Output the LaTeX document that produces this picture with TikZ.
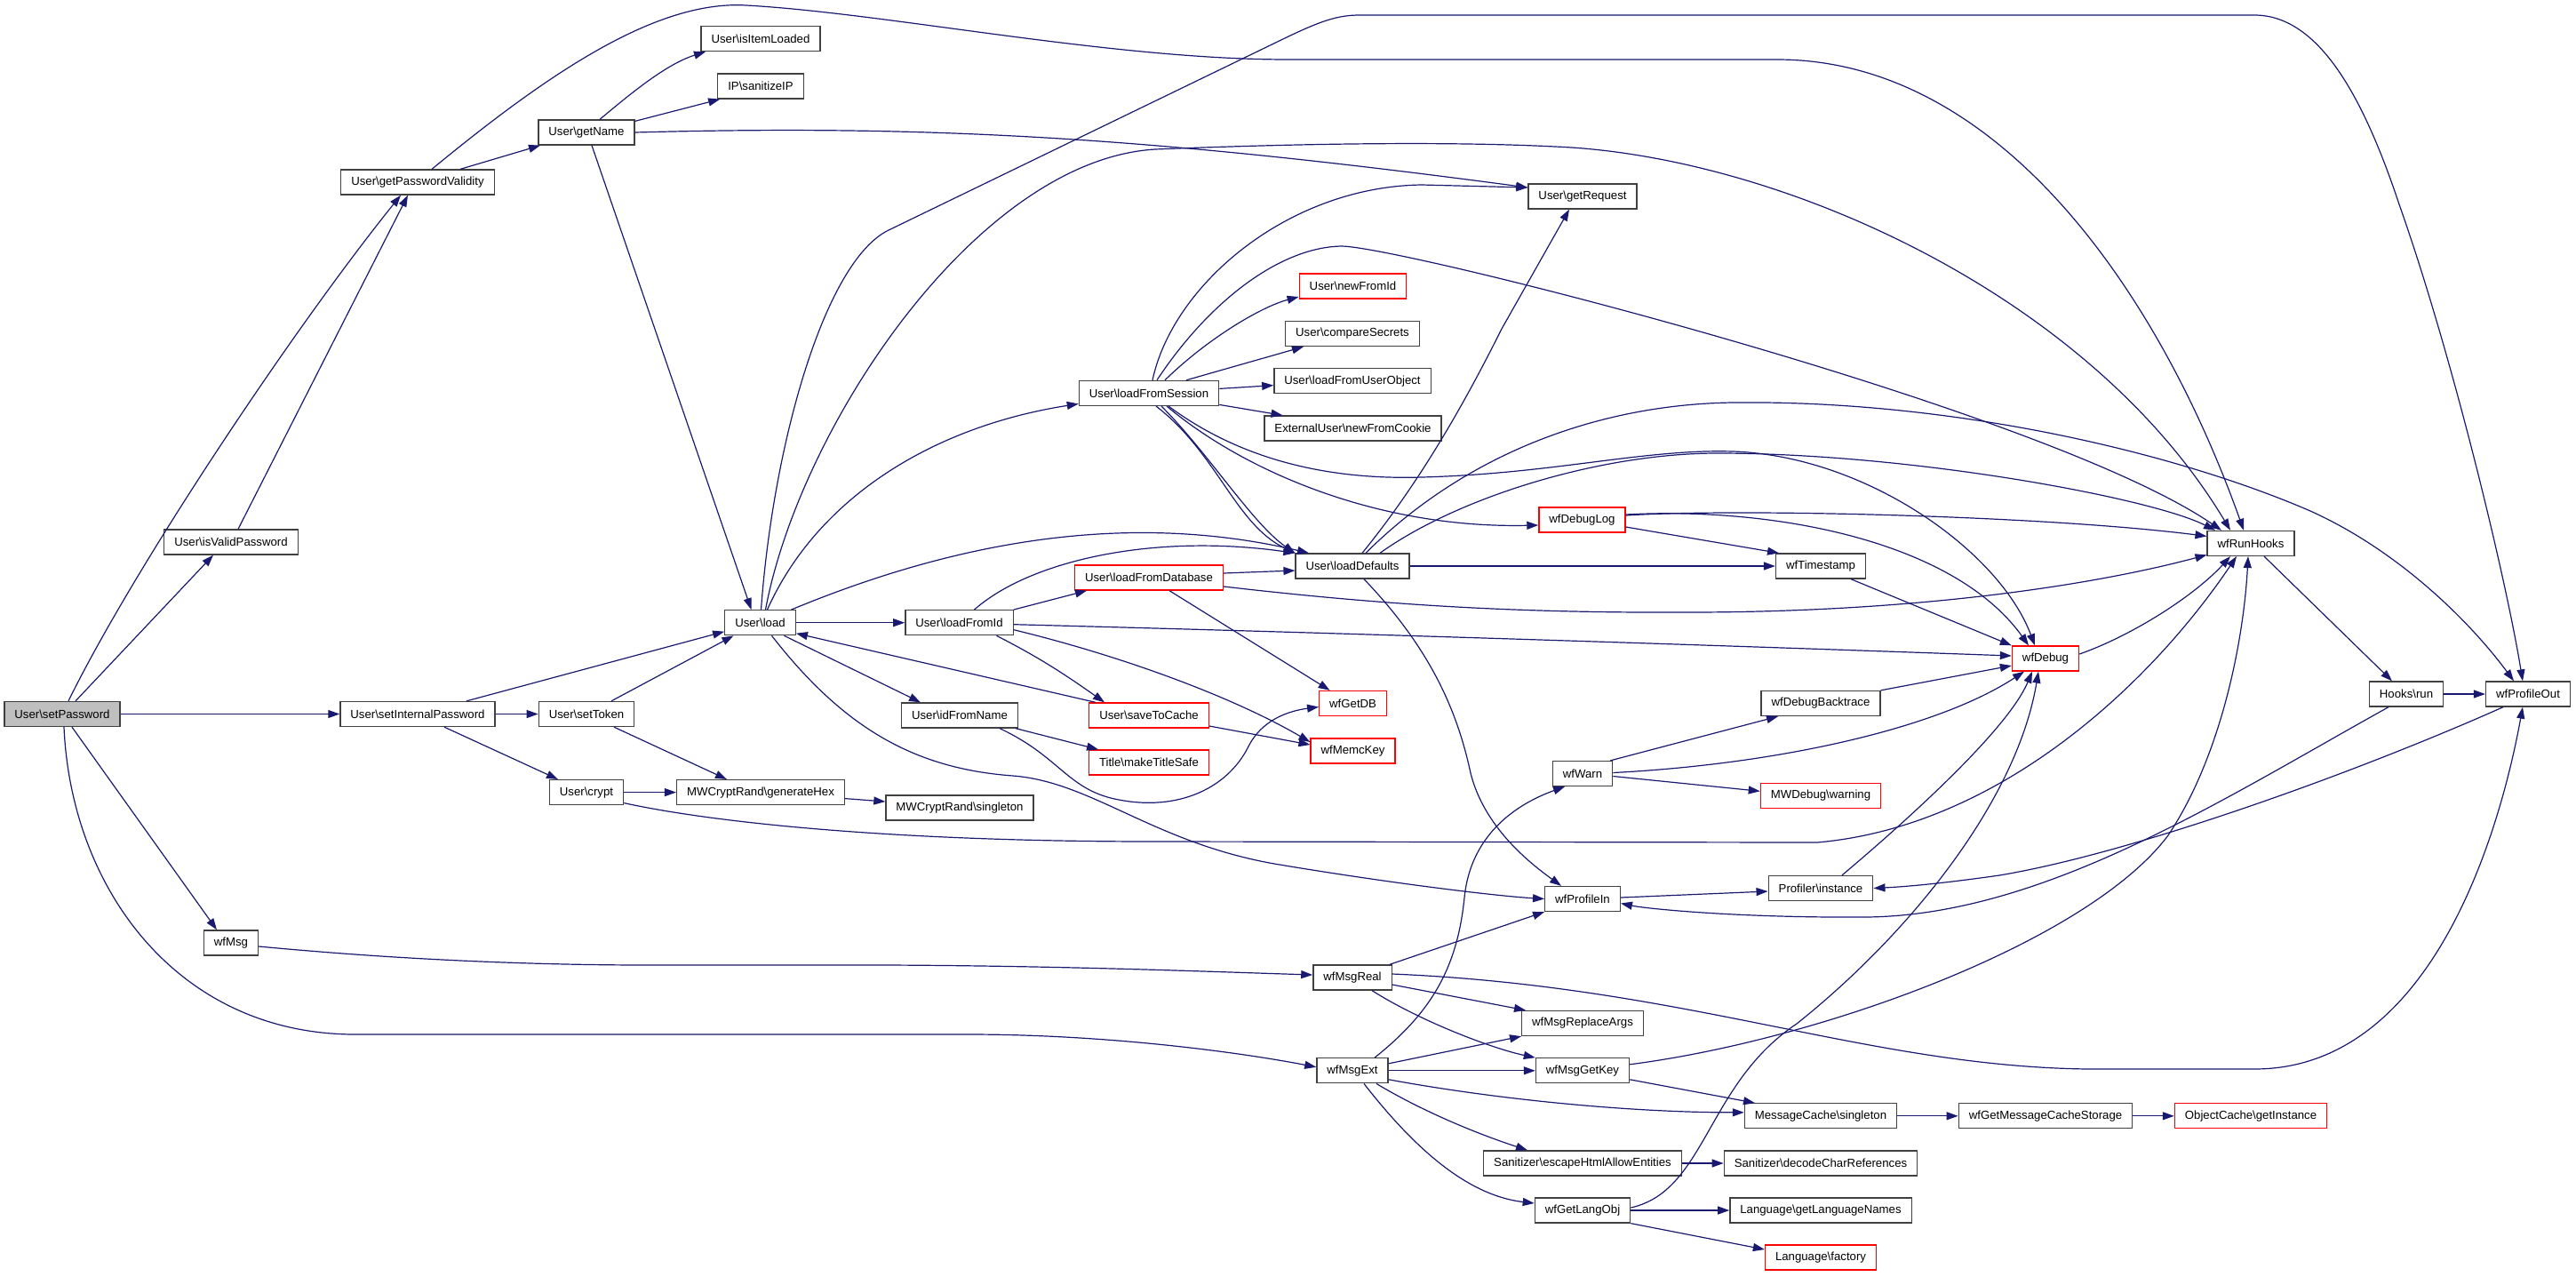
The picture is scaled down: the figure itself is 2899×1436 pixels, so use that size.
\documentclass[tikz,border=0pt]{standalone}
\usepackage{fontspec}
\setmainfont{Liberation Sans}
\usetikzlibrary{arrows.meta}
\definecolor{edgec}{HTML}{191970}
\definecolor{nodeb}{HTML}{404040}
\definecolor{redb}{HTML}{FF0000}
\definecolor{grayf}{HTML}{BFBFBF}
\newcommand\bsl{\textbackslash}
\tikzset{
 fn/.style={draw=nodeb, line width=1.3pt, fill=white, minimum height=28pt, inner xsep=11.5pt, inner ysep=0pt, font=\fontsize{13.2}{15}\selectfont, text=black},
 rfn/.style={fn, draw=redb},
 edg/.style={draw=edgec, line width=1.2pt, -{Triangle[length=13pt,width=9pt]}}
}
\begin{document}
\begin{tikzpicture}[x=1pt,y=-1pt]
\useasboundingbox (0,0) rectangle (2899,1436);
% nodes
\node[fn, fill=grayf] (sp) at (70,803.5) {User\bsl setPassword};
\node[fn] (ivp) at (260,610) {User\bsl isValidPassword};
\node[fn] (wmsg) at (260,1061) {wfMsg};
\node[fn] (gpv) at (470,205) {User\bsl getPasswordValidity};
\node[fn] (sip) at (470,803.5) {User\bsl setInternalPassword};
\node[fn] (gn) at (660,149) {User\bsl getName};
\node[fn] (st) at (660,803.5) {User\bsl setToken};
\node[fn] (cr) at (660,891.6) {User\bsl crypt};
\node[fn] (iil) at (856,43.6) {User\bsl isItemLoaded};
\node[fn] (sanip) at (856,97) {IP\bsl sanitizeIP};
\node[fn] (load) at (855.5,700.7) {User\bsl load};
\node[fn] (gh) at (856,891.6) {MWCryptRand\bsl generateHex};
\node[fn] (lfi) at (1079.5,700.7) {User\bsl loadFromId};
\node[fn] (ifn) at (1080,805) {User\bsl idFromName};
\node[fn] (cs) at (1080,909) {MWCryptRand\bsl singleton};
\node[fn] (lfs) at (1293,442.4) {User\bsl loadFromSession};
\node[rfn] (lfdb) at (1293,650) {User\bsl loadFromDatabase};
\node[rfn] (stc) at (1293,805) {User\bsl saveToCache};
\node[rfn] (mts) at (1293,858) {Title\bsl makeTitleSafe};
\node[rfn] (nfi) at (1522.5,322) {User\bsl newFromId};
\node[fn] (csec) at (1522,375.5) {User\bsl compareSecrets};
\node[fn] (lfuo) at (1522,428.6) {User\bsl loadFromUserObject};
\node[fn] (nfc) at (1522.5,482) {ExternalUser\bsl newFromCookie};
\node[fn] (ldef) at (1522,637) {User\bsl loadDefaults};
\node[rfn] (wgdb) at (1522.6,791.5) {wfGetDB};
\node[rfn] (wmk) at (1522.5,845) {wfMemcKey};
\node[fn] (wmr) at (1522,1100) {wfMsgReal};
\node[fn] (wme) at (1522,1204.8) {wfMsgExt};
\node[fn] (gr) at (1781,221) {User\bsl getRequest};
\node[rfn] (wdl) at (1780.5,585) {wfDebugLog};
\node[fn] (wfw) at (1781,870.5) {wfWarn};
\node[fn] (wpi) at (1781,1011.5) {wfProfileIn};
\node[fn] (wmra) at (1781,1151.5) {wfMsgReplaceArgs};
\node[fn] (wmgk) at (1781,1204.8) {wfMsgGetKey};
\node[fn] (esc) at (1781,1309) {Sanitizer\bsl escapeHtmlAllowEntities};
\node[fn] (wglo) at (1781,1362) {wfGetLangObj};
\node[fn] (wts) at (2049,637) {wfTimestamp};
\node[fn] (wdb) at (2049,791.5) {wfDebugBacktrace};
\node[rfn] (mdw) at (2049,895.3) {MWDebug\bsl warning};
\node[fn] (pfi) at (2049,999.5) {Profiler\bsl instance};
\node[fn] (mcs) at (2049,1255.8) {MessageCache\bsl singleton};
\node[fn] (dcr) at (2049,1309) {Sanitizer\bsl decodeCharReferences};
\node[fn] (gln) at (2049,1362) {Language\bsl getLanguageNames};
\node[rfn] (lf) at (2049,1415) {Language\bsl factory};
\node[rfn] (wfd) at (2302,741) {wfDebug};
\node[fn] (wgmcs) at (2302,1255.8) {wfGetMessageCacheStorage};
\node[fn] (wrh) at (2533,611.4) {wfRunHooks};
\node[rfn] (ocgi) at (2533,1255.8) {ObjectCache\bsl getInstance};
\node[fn] (hr) at (2708,781) {Hooks\bsl run};
\node[fn] (wpo) at (2845,781) {wfProfileOut};
% edges
\draw[edg] ([xshift=7pt]sp.north) .. controls (150,640) and (330,370) .. ([xshift=-19pt]gpv.south);
\draw[edg] ([xshift=15pt]sp.north) -- ([xshift=-20pt]ivp.south);
\draw[edg] ([xshift=8pt]ivp.north) -- ([xshift=-11pt]gpv.south);
\draw[edg] (sp) -- (sip);
\draw[edg] ([xshift=11pt]sp.south) -- ([xshift=-16pt]wmsg.north);
\draw[edg] ([xshift=2pt]sp.south) .. controls (80,1000) and (200,1164) .. (400,1164) -- (1090,1164) .. controls (1250,1164) and (1400,1185) .. ([yshift=4pt]wme.west);
\draw[edg] ([xshift=48pt]gpv.north) -- ([xshift=-52pt]gn.south);
\draw[edg] ([xshift=16pt]gpv.north) .. controls (620,80) and (740,0) .. (840,6) .. controls (1000,15) and (1250,67) .. (1450,67) -- (2000,67) .. controls (2250,67) and (2430,330) .. ([xshift=-8pt]wrh.north);
\draw[edg] ([xshift=15pt]gn.north) .. controls (710,105) and (750,72) .. ([xshift=-62pt]iil.south);
\draw[edg] ([yshift=-2pt]gn.north east) -- ([xshift=3pt]sanip.south west);
\draw[edg] (gn.east) .. controls (1050,140) and (1300,155) .. ([yshift=10pt]gr.west);
\draw[edg] ([xshift=6pt]gn.south) -- ([xshift=-10pt]load.north);
\draw[edg] ([xshift=55pt]sip.north) -- ([yshift=-10pt]load.west);
\draw[edg] (sip) -- (st);
\draw[edg] ([xshift=30pt]sip.south) -- ([xshift=-32pt]cr.north);
\draw[edg] ([xshift=28pt]st.north) -- ([xshift=-30pt]load.south);
\draw[edg] ([xshift=31pt]st.south) -- ([xshift=-38pt]gh.north);
\draw[edg] (cr) -- (gh);
\draw[edg] ([yshift=-12pt]cr.east) .. controls (800,925) and (1000,947) .. (1300,947) -- (2045,948) .. controls (2250,930) and (2420,770) .. ([xshift=-16pt]wrh.south);
\draw[edg] ([yshift=-7pt]gh.east) -- ([yshift=7pt]cs.west);
\draw[edg] (load) -- (lfi);
\draw[edg] ([xshift=1pt]load.north) .. controls (870,500) and (928,294) .. (1000,259) -- (1450,41) .. controls (1486,24) and (1505,17) .. (1530,17) -- (2537,17) .. controls (2610,17) and (2660,110) .. (2700,230) .. controls (2760,400) and (2820,650) .. ([xshift=-6pt]wpo.north);
\draw[edg] ([xshift=6pt]load.north) .. controls (900,480) and (1100,180) .. (1300,168) .. controls (1500,160) and (1650,160) .. (1750,165) .. controls (2000,175) and (2350,330) .. ([xshift=-23pt]wrh.north);
\draw[edg] ([xshift=8pt]load.north) .. controls (920,560) and (1050,480) .. ([yshift=-12pt]lfs.west);
\draw[edg] ([xshift=35pt]load.north) .. controls (1050,620) and (1250,570) .. ([xshift=-49pt]ldef.north);
\draw[edg] ([xshift=27pt]load.south) -- ([xshift=-44pt]ifn.north);
\draw[edg] ([xshift=13pt]load.south) .. controls (950,820) and (1030,865) .. (1140,873) .. controls (1230,880) and (1300,950) .. (1440,973) .. controls (1560,993) and (1680,1008) .. (wpi.west);
\draw[edg] (lfi.north east) -- ([xshift=-70pt]lfdb.south);
\draw[edg] ([xshift=17pt]lfi.north) .. controls (1160,630) and (1300,600) .. (ldef.north west);
\draw[edg] ([yshift=-2pt]lfi.east) .. controls (1500,712) and (1900,725) .. ([yshift=3pt]wfd.west);
\draw[edg] ([yshift=-8pt]lfi.east) .. controls (1250,735) and (1380,780) .. ([yshift=10pt]wmk.west);
\draw[edg] ([xshift=42pt]lfi.south) .. controls (1170,740) and (1200,760) .. ([xshift=-50pt]stc.north);
\draw[edg] ([xshift=-60pt]stc.north) -- ([yshift=-12pt]load.east);
\draw[edg] ([yshift=-12pt]stc.east) -- ([yshift=7pt]wmk.west);
\draw[edg] ([xshift=23pt]lfdb.south) -- ([xshift=-26pt]wgdb.north);
\draw[edg] ([yshift=5pt]lfdb.east) -- ([yshift=-5pt]ldef.west);
\draw[edg] ([yshift=-10pt]lfdb.east) .. controls (1550,680) and (1700,690) .. (1900,689) .. controls (2150,689) and (2350,660) .. ([yshift=-13pt]wrh.west);
\draw[edg] ([xshift=-3pt]ifn.south east) -- ([xshift=-57pt]mts.north);
\draw[edg] ([xshift=45pt]ifn.south) .. controls (1190,850) and (1200,885) .. (1250,898) .. controls (1320,915) and (1380,890) .. (1405,840) .. controls (1420,810) and (1450,800) .. ([yshift=-4pt]wgdb.west);
\draw[edg] ([xshift=4pt]lfs.north) .. controls (1320,320) and (1450,210) .. (1600,208) -- ([yshift=10pt]gr.west);
\draw[edg] ([xshift=9pt]lfs.north) .. controls (1360,340) and (1440,278) .. (1510,277) .. controls (1580,278) and (2300,460) .. ([xshift=-33pt]wrh.north);
\draw[edg] ([xshift=18pt]lfs.north) .. controls (1360,380) and (1420,345) .. ([yshift=-12pt]nfi.west);
\draw[edg] ([xshift=42pt]lfs.north) -- ([xshift=-55pt]csec.south);
\draw[edg] ([yshift=5pt]lfs.east) -- ([yshift=-5pt]lfuo.west);
\draw[edg] ([yshift=-13pt]lfs.east) -- ([xshift=-79pt]nfc.north);
\draw[edg] ([xshift=8pt]lfs.south) .. controls (1370,510) and (1390,590) .. (ldef.north west);
\draw[edg] ([xshift=14pt]lfs.south) .. controls (1360,510) and (1410,590) .. (ldef.north west);
\draw[edg] ([xshift=20pt]lfs.south) .. controls (1400,530) and (1550,595) .. ([yshift=-6pt]wdl.west);
\draw[edg] ([xshift=22pt]lfs.south) .. controls (1400,520) and (1500,540) .. (1600,537) .. controls (1750,533) and (1850,505) .. (1950,508) .. controls (2100,513) and (2250,620) .. ([xshift=-12pt]wfd.north);
\draw[edg] ([xshift=11pt]ldef.north) .. controls (1600,540) and (1650,450) .. (1690,370) -- ([xshift=-15pt]gr.south);
\draw[edg] ([xshift=15pt]ldef.north) .. controls (1650,510) and (1800,455) .. (1950,453) .. controls (2200,450) and (2450,510) .. (2600,575) .. controls (2700,620) and (2780,700) .. ([xshift=-16pt]wpo.north);
\draw[edg] ([xshift=31pt]ldef.north) .. controls (1640,560) and (1800,510) .. (1933,510) .. controls (2150,510) and (2420,560) .. ([xshift=-40pt]wrh.north);
\draw[edg] (ldef) -- (wts);
\draw[edg] ([xshift=13pt]ldef.south) .. controls (1610,730) and (1640,800) .. (1655,870) .. controls (1670,930) and (1720,970) .. ([xshift=-24pt]wpi.north);
\draw[edg] ([yshift=-8pt]wdl.east) -- ([xshift=-47pt]wts.north);
\draw[edg] ([yshift=5pt]wdl.east) .. controls (1950,572) and (2300,580) .. ([yshift=8pt]wrh.west);
\draw[edg] ([yshift=6pt]wdl.east) .. controls (2000,570) and (2200,610) .. ([xshift=-19pt]wfd.north);
\draw[edg] ([xshift=34pt]wts.south) -- (wfd.north west);
\draw[edg] ([yshift=5pt]wfd.east) .. controls (2400,715) and (2470,670) .. ([xshift=-23pt]wrh.south);
\draw[edg] ([xshift=15pt]wrh.south) -- ([xshift=-16pt]hr.north);
\draw[edg] (hr) -- (wpo);
\draw[edg] ([xshift=-20pt]hr.south) .. controls (2500,900) and (2300,1030) .. (2100,1032) .. controls (1950,1033) and (1850,1022) .. ([yshift=-5pt]wpi.east);
\draw[edg] ([xshift=-28pt]wpo.south) .. controls (2650,870) and (2400,960) .. (2250,985) .. controls (2180,995) and (2140,998) .. (pfi.east);
\draw[edg] ([yshift=4pt]wmr.east) .. controls (1900,1110) and (2100,1200) .. (2350,1203) -- (2537,1203) .. controls (2750,1203) and (2820,900) .. ([xshift=-6pt]wpo.south);
\draw[edg] ([yshift=-4pt]wmsg.east) .. controls (450,1080) and (600,1086) .. (730,1086) -- (1000,1086) .. controls (1200,1087) and (1350,1093) .. ([yshift=3pt]wmr.west);
\draw[edg] ([xshift=-3pt]wmr.north east) -- (wpi.south west);
\draw[edg] ([yshift=-8pt]wmr.east) -- ([xshift=-64pt]wmra.north);
\draw[edg] ([xshift=22pt]wmr.south) .. controls (1600,1150) and (1680,1180) .. (wmgk.north west);
\draw[edg] ([xshift=25pt]wme.north) .. controls (1610,1140) and (1640,1090) .. (1648,1010) .. controls (1656,930) and (1720,900) .. ([xshift=-20pt]wfw.south);
\draw[edg] ([yshift=8pt]wme.east) -- (wmra.south west);
\draw[edg] (wme) -- (wmgk);
\draw[edg] ([yshift=-10pt]wme.east) .. controls (1700,1240) and (1850,1252) .. ([yshift=4pt]mcs.west);
\draw[edg] ([xshift=27pt]wme.south) .. controls (1600,1250) and (1660,1275) .. ([xshift=-62pt]esc.north);
\draw[edg] ([xshift=13pt]wme.south) .. controls (1590,1290) and (1650,1345) .. ([yshift=8pt]wglo.west);
\draw[edg] ([yshift=-10pt]wmgk.east) -- ([xshift=-74pt]mcs.north);
\draw[edg] ([yshift=7pt]wmgk.east) .. controls (2050,1170) and (2350,1060) .. (2440,940) .. controls (2500,850) and (2525,720) .. ([xshift=-3pt]wrh.south);
\draw[edg] (esc) -- (dcr);
\draw[edg] (mcs) -- (wgmcs);
\draw[edg] (wgmcs) -- (ocgi);
\draw[edg] (wglo) -- (gln);
\draw[edg] (wglo.south east) -- ([yshift=9pt]lf.west);
\draw[edg] ([yshift=3pt]wglo.east) .. controls (1920,1340) and (1920,1220) .. (2022,1152) .. controls (2150,1050) and (2270,900) .. ([xshift=-8pt]wfd.south);
\draw[edg] ([xshift=-3pt]wfw.north east) -- ([xshift=-48pt]wdb.south);
\draw[edg] ([yshift=1pt]wfw.east) .. controls (2000,860) and (2180,820) .. ([xshift=-24pt]wfd.south);
\draw[edg] ([yshift=-3pt]wfw.east) -- ([yshift=5pt]mdw.west);
\draw[edg] (wdb.north east) -- ([yshift=-8pt]wfd.west);
\draw[edg] ([yshift=1.5pt]wpi.east) -- ([yshift=-3.5pt]pfi.west);
\draw[edg] ([xshift=24pt]pfi.north) .. controls (2150,920) and (2260,820) .. ([xshift=-15pt]wfd.south);
\end{tikzpicture}
\end{document}
